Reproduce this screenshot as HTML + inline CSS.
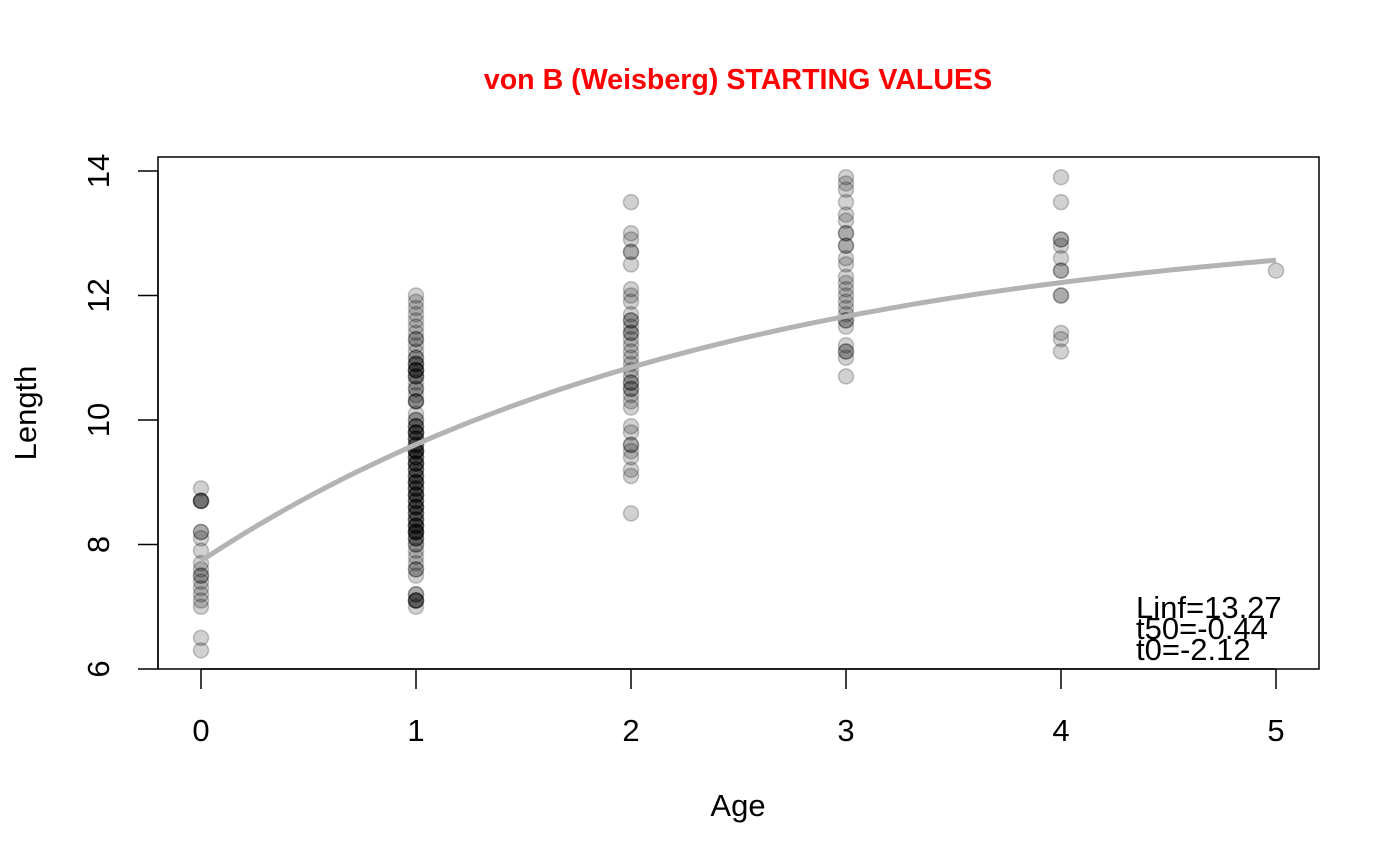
<!DOCTYPE html>
<html><head><meta charset="utf-8"><style>
body{margin:0;background:#fff;}
svg{display:block;font-family:"Liberation Sans",Arial,sans-serif;}
</style></head><body>
<svg id="chart" width="1400" height="866" viewBox="0 0 1400 866">
<text x="738" y="89" text-anchor="middle" fill="#ff0000" font-weight="bold" font-size="28.6">von B (Weisberg) STARTING VALUES</text>
<rect x="158" y="157" width="1161" height="512" fill="none" stroke="#000" stroke-width="1.5"/>
<g id="xaxis"></g>
<g id="yaxis"></g>
<text x="738" y="816" text-anchor="middle" font-size="31">Age</text>
<text transform="translate(36,413) rotate(-90)" text-anchor="middle" font-size="31">Length</text>
<g id="points"></g>
<path id="curve" fill="none" stroke="#b3b3b3" stroke-width="5"/>
<g font-size="31">
<text x="1136" y="618">Linf=13.27</text>
<text x="1136" y="639">t50=-0.44</text>
<text x="1136" y="660">t0=-2.12</text>
</g>
</svg>
<script>
const xTicks=[0,1,2,3,4,5];
const yTicks=[6,8,10,12,14];
const age0=[8.9,8.7,8.7,8.7,8.7,8.2,8.2,8.1,7.9,7.7,7.6,7.5,7.5,7.4,7.3,7.2,7.1,7.0,6.5,6.3];
const age1=[12.0,11.9,11.8,11.7,11.6,11.5,11.4,11.3,11.3,11.2,11.1,11.0,11.0,10.9,10.9,10.9,10.8,10.8,10.8,10.8,10.7,10.7,10.7,10.6,10.5,10.5,10.4,10.3,10.3,10.3,10.1,10.0,10.0,9.9,9.9,9.9,9.8,9.8,9.8,9.8,9.7,9.7,9.7,9.6,9.6,9.6,9.5,9.5,9.5,9.5,9.5,9.4,9.4,9.4,9.3,9.3,9.3,9.3,9.2,9.2,9.2,9.1,9.1,9.1,9.0,9.0,9.0,9.0,8.9,8.9,8.9,8.8,8.8,8.8,8.8,8.7,8.7,8.7,8.6,8.6,8.6,8.6,8.5,8.5,8.5,8.4,8.4,8.4,8.3,8.3,8.3,8.3,8.2,8.2,8.2,8.2,8.2,8.1,8.1,8.1,8.0,8.0,7.9,7.8,7.7,7.6,7.6,7.5,7.2,7.2,7.1,7.1,7.1,7.1,7.0];
const age2=[13.5,13.0,12.9,12.7,12.7,12.5,12.1,12.0,11.9,11.7,11.6,11.6,11.5,11.4,11.4,11.3,11.2,11.1,11.0,10.9,10.8,10.7,10.6,10.6,10.5,10.5,10.4,10.3,10.2,9.9,9.8,9.6,9.6,9.5,9.4,9.2,9.1,8.5];
const age3=[13.9,13.8,13.7,13.5,13.3,13.2,13.0,13.0,12.8,12.8,12.6,12.5,12.3,12.2,12.1,12.0,11.9,11.8,11.7,11.6,11.6,11.5,11.2,11.1,11.1,11.0,10.7];
const age4=[13.9,13.5,12.9,12.9,12.8,12.6,12.4,12.4,12.0,12.0,11.4,11.3,11.1];
const age5=[12.4];
const Linf=13.27, t50=-0.44, t0=-2.12;
const X=v=>201+v*215, Y=v=>669-(v-6)*62.25;
const NS="http://www.w3.org/2000/svg";
function mk(tag,attrs,parent){const e=document.createElementNS(NS,tag);for(const k in attrs)e.setAttribute(k,attrs[k]);parent.appendChild(e);return e;}
const xa=document.getElementById('xaxis');
mk('line',{x1:X(0),x2:X(5),y1:669,y2:669,stroke:'#000','stroke-width':1.5},xa);
xTicks.forEach(t=>{
 const l=mk('line',{x1:X(t),x2:X(t),y1:669,y2:689,stroke:'#000','stroke-width':1.5},xa);
 
 
 const tx=mk('text',{x:X(t),y:741,'text-anchor':'middle','font-size':31},xa);tx.textContent=t;
 
 
});
const ya=document.getElementById('yaxis');
mk('line',{x1:158,x2:158,y1:Y(6),y2:Y(14),stroke:'#000','stroke-width':1.5},ya);
yTicks.forEach(t=>{
 const l=mk('line',{x1:138,x2:158,y1:Y(t),y2:Y(t),stroke:'#000','stroke-width':1.5},ya);
 
 
 const tx=mk('text',{transform:`translate(109,${Y(t)}) rotate(-90)`,'text-anchor':'middle','font-size':31},ya);tx.textContent=t;
 
 
});
const pg=document.getElementById('points');
[age0,age1,age2,age3,age4,age5].forEach((arr,i)=>{
 arr.forEach(v=>{
  const c=mk('circle',{cx:X(i),cy:Y(v),r:7.5,fill:'rgba(0,0,0,0.18)',stroke:'rgba(0,0,0,0.22)','stroke-width':1.5},pg);
  
  
 });
});
const K=Math.log(2)/(t50-t0);
let d='';
for(let i=0;i<=100;i++){const t=5*i/100;const L=Linf*(1-Math.exp(-K*(t-t0)));d+=(i?'L':'M')+X(t).toFixed(1)+','+Y(L).toFixed(1);}
document.getElementById('curve').setAttribute('d',d);
</script>
</body></html>
